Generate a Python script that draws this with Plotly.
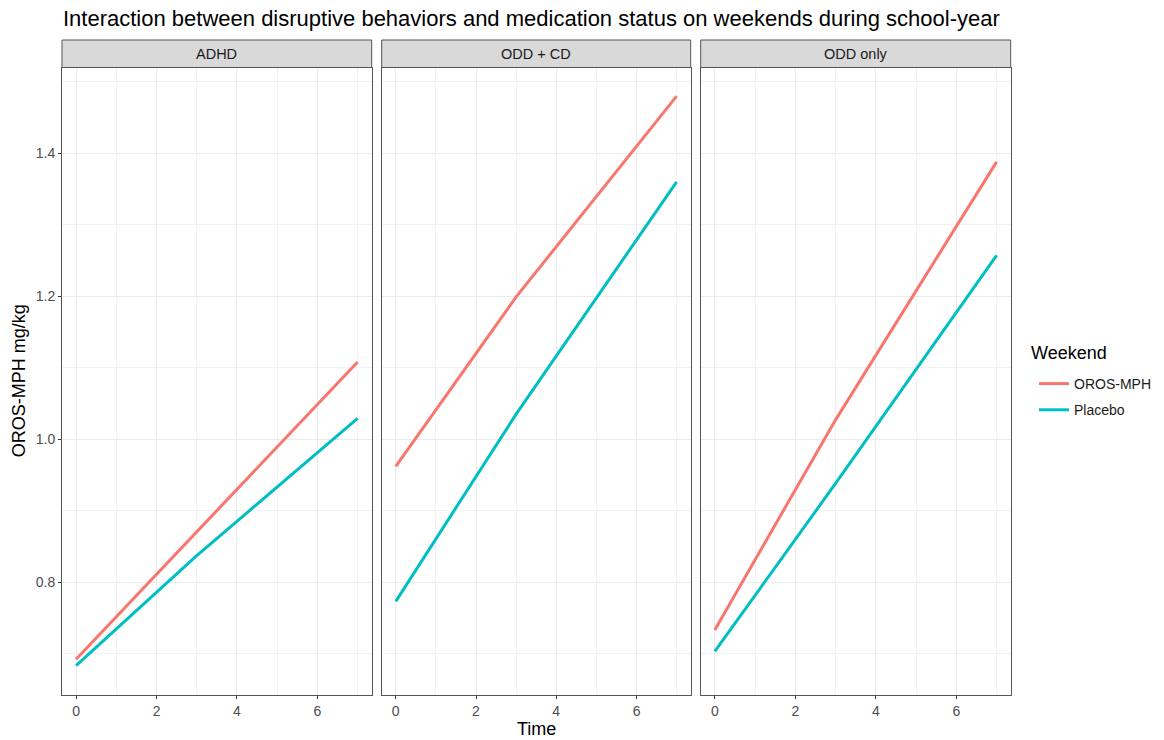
import plotly.graph_objects as go

panels = ["ADHD", "ODD + CD", "ODD only"]
time_pts = [0, 3, 7]
oros = {
    "ADHD": [0.692, 0.870, 1.108],
    "ODD + CD": [0.962, 1.199, 1.480],
    "ODD only": [0.733, 1.027, 1.388],
}
placebo = {
    "ADHD": [0.683, 0.837, 1.029],
    "ODD + CD": [0.773, 1.035, 1.360],
    "ODD only": [0.703, 0.938, 1.257],
}
series_names = ["OROS-MPH", "Placebo"]
colors = ["#F8766D", "#00BFC4"]
x_ticks = [0, 2, 4, 6]
y_ticks = [0.8, 1.0, 1.2, 1.4]
y_tick_text = ["0.8", "1.0", "1.2", "1.4"]

W, H = 1164, 740
px_domains = [(62, 371.7), (381.7, 690.7), (700.7, 1010.7)]
plot_top, plot_bot = 67.5, 695
strip_top = 40

FONT = "Liberation Sans, Arial, sans-serif"
fig = go.Figure()

for i, p in enumerate(panels):
    ax = "" if i == 0 else str(i + 1)
    for s, (name, data) in enumerate(zip(series_names, [oros, placebo])):
        fig.add_trace(go.Scatter(
            x=time_pts, y=data[p], mode="lines", name=name,
            line=dict(color=colors[s], width=3),
            xaxis="x" + ax, yaxis="y" + ax,
            showlegend=(i == 0), legendgroup=name,
        ))

layout = dict(
    width=W, height=H,
    margin=dict(l=0, r=0, t=0, b=0),
    paper_bgcolor="white", plot_bgcolor="white",
    font=dict(family=FONT, color="#4d4d4d"),
    showlegend=True,
    legend=dict(
        font=dict(size=14, color="#1a1a1a"),
        x=1034 / W, y=1 - 368 / H, xanchor="left", yanchor="top",
        bgcolor="rgba(0,0,0,0)", tracegroupgap=5,
    ),
    title=dict(
        text="Interaction between disruptive behaviors and medication status on weekends during school-year",
        x=63 / W, xanchor="left", y=1 - 18 / H, yanchor="middle",
        font=dict(size=22, color="#000000", family=FONT),
    ),
)

shapes = []
annotations = []
for i, p in enumerate(panels):
    ax = "" if i == 0 else str(i + 1)
    x0, x1 = px_domains[i]
    layout["xaxis" + ax] = dict(
        domain=[x0 / W, x1 / W], range=[-0.35, 7.35],
        tickvals=x_ticks, ticks="outside", ticklen=3, tickcolor="#333333",
        tickfont=dict(size=14, color="#4d4d4d"),
        showgrid=True, gridcolor="#ebebeb", gridwidth=1.2,
        minor=dict(dtick=1, tick0=1, showgrid=True, gridcolor="#f2f2f2", gridwidth=0.6, ticks=""),
        showline=True, mirror=True, linecolor="#555555", linewidth=1,
        zeroline=False, anchor="y" + ax, fixedrange=True,
    )
    layout["yaxis" + ax] = dict(
        domain=[1 - plot_bot / H, 1 - plot_top / H], range=[0.642, 1.520],
        tickvals=y_ticks, ticktext=y_tick_text,
        ticks="outside" if i == 0 else "", ticklen=3, tickcolor="#333333",
        showticklabels=(i == 0),
        tickfont=dict(size=14, color="#4d4d4d"),
        showgrid=True, gridcolor="#ebebeb", gridwidth=1.2,
        minor=dict(dtick=0.1, tick0=0.7, showgrid=True, gridcolor="#f2f2f2", gridwidth=0.6, ticks=""),
        showline=True, mirror=True, linecolor="#555555", linewidth=1,
        zeroline=False, anchor="x" + ax, fixedrange=True,
    )
    shapes.append(dict(
        type="rect", xref="paper", yref="paper",
        x0=x0 / W, x1=x1 / W, y0=1 - plot_top / H, y1=1 - strip_top / H,
        fillcolor="#d9d9d9", line=dict(color="#555555", width=1), layer="above",
    ))
    annotations.append(dict(
        text=p, xref="paper", yref="paper",
        x=(x0 + x1) / 2 / W, y=1 - (strip_top + plot_top) / 2 / H,
        xanchor="center", yanchor="middle", showarrow=False,
        font=dict(size=14.5, color="#1a1a1a"),
    ))

annotations.append(dict(
    text="Weekend", xref="paper", yref="paper",
    x=1029 / W, y=1 - 353 / H, xanchor="left", yanchor="middle",
    showarrow=False, font=dict(size=18, color="#000000"),
))
annotations.append(dict(
    text="Time", xref="paper", yref="paper",
    x=(62 + 1010.7) / 2 / W, y=1 - 729 / H, xanchor="center", yanchor="middle",
    showarrow=False, font=dict(size=18, color="#000000"),
))
annotations.append(dict(
    text="OROS-MPH mg/kg", xref="paper", yref="paper",
    x=19 / W, y=1 - (plot_top + plot_bot) / 2 / H, xanchor="center", yanchor="middle",
    textangle=-90, showarrow=False, font=dict(size=18, color="#000000"),
))

layout["shapes"] = shapes
layout["annotations"] = annotations
fig.update_layout(**layout)
fig.write_html(
    "out.html",
    config={"displayModeBar": False},
    post_script="document.body.style.margin='0';document.body.style.overflow='hidden';",
)
